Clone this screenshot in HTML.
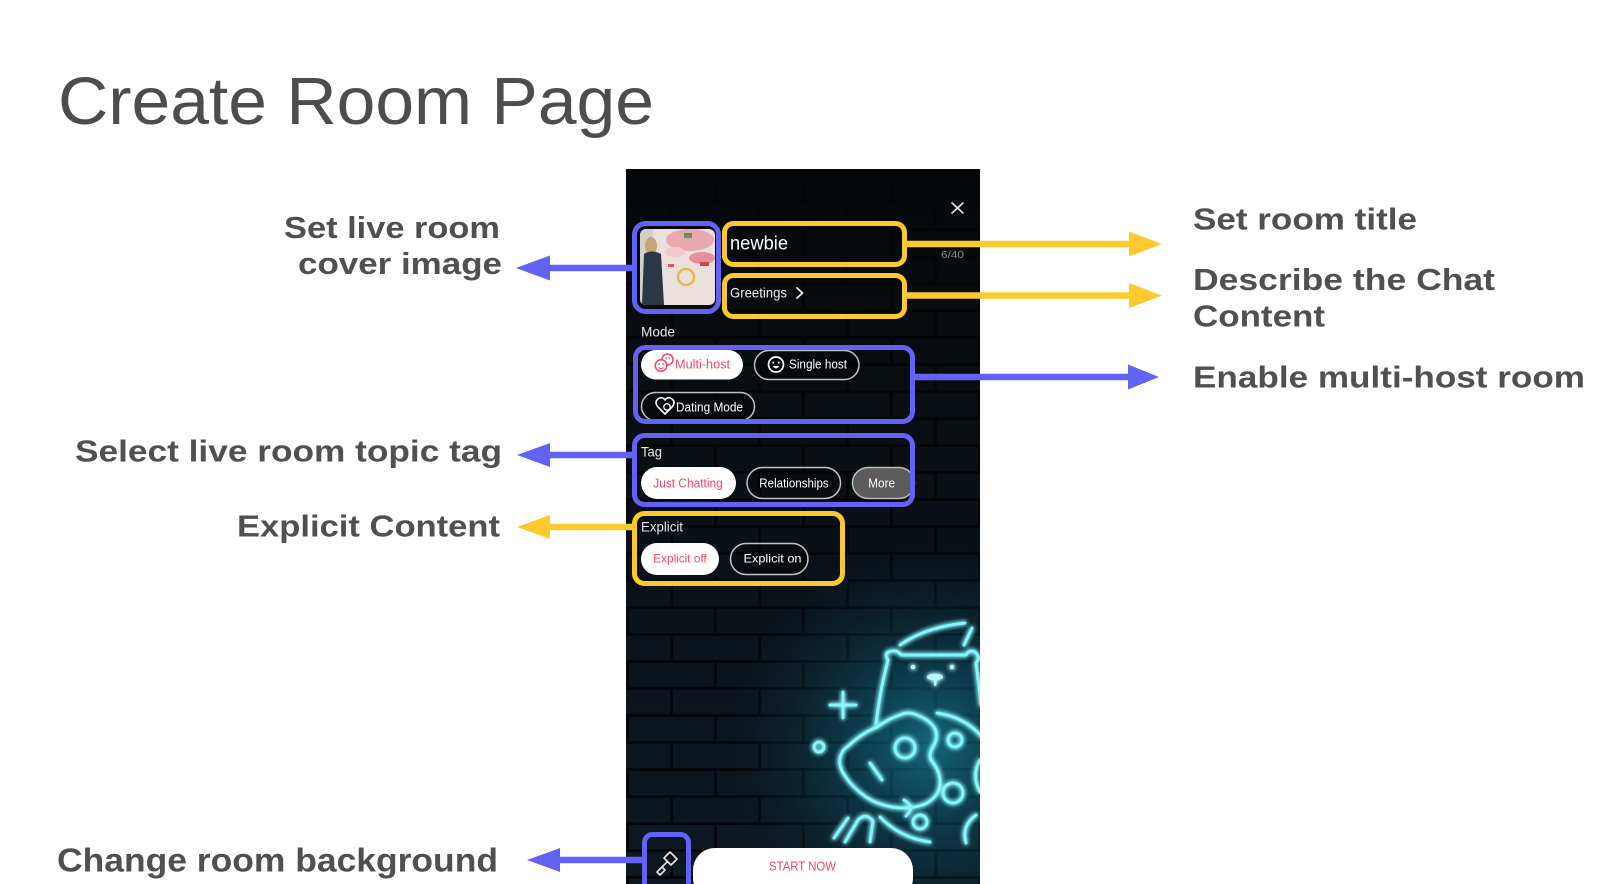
<!DOCTYPE html>
<html>
<head>
<meta charset="utf-8">
<style>
html,body{margin:0;padding:0;background:#fff;}
body{width:1602px;height:884px;overflow:hidden;}
svg{display:block;}
</style>
</head>
<body>
<svg width="1602" height="884" viewBox="0 0 1602 884" xmlns="http://www.w3.org/2000/svg">
<defs>
  <pattern id="bricks" x="626" y="174" width="88" height="54" patternUnits="userSpaceOnUse">
    <rect x="0" y="0" width="88" height="54" fill="#101b23"/>
    <rect x="0" y="0" width="88" height="3" fill="#030506"/>
    <rect x="0" y="27" width="88" height="3" fill="#030506"/>
    <rect x="0" y="0" width="3" height="27" fill="#030506"/>
    <rect x="44" y="27" width="3" height="27" fill="#030506"/>
  </pattern>
  <linearGradient id="shade" x1="0" y1="0" x2="0" y2="1">
    <stop offset="0" stop-color="#040607" stop-opacity="0.9"/>
    <stop offset="0.45" stop-color="#05080a" stop-opacity="0.6"/>
    <stop offset="1" stop-color="#06101a" stop-opacity="0.3"/>
  </linearGradient>
  <radialGradient id="glowbg" cx="930" cy="745" r="200" gradientUnits="userSpaceOnUse">
    <stop offset="0" stop-color="#1aa6c8" stop-opacity="0.55"/>
    <stop offset="0.5" stop-color="#0f6f90" stop-opacity="0.3"/>
    <stop offset="1" stop-color="#0a3a50" stop-opacity="0"/>
  </radialGradient>
  <filter id="neon" x="-30%" y="-30%" width="160%" height="160%">
    <feGaussianBlur stdDeviation="2.5" result="b"/>
    <feMerge><feMergeNode in="b"/><feMergeNode in="b"/><feMergeNode in="SourceGraphic"/></feMerge>
  </filter>
  <clipPath id="phoneclip"><rect x="626" y="169" width="354" height="715"/></clipPath>
  <clipPath id="coverclip"><rect x="640" y="229" width="75" height="76" rx="6"/></clipPath>
</defs>

<!-- Title -->
<text x="58" y="124" font-family="Liberation Sans, sans-serif" font-size="67" fill="#4d4d4d" textLength="596" lengthAdjust="spacingAndGlyphs">Create Room Page</text>

<!-- Left labels -->
<g font-family="Liberation Sans, sans-serif" font-weight="bold" font-size="31" fill="#505050">
  <text x="284" y="238" textLength="216" lengthAdjust="spacingAndGlyphs">Set live room</text>
  <text x="298" y="274" textLength="204" lengthAdjust="spacingAndGlyphs">cover image</text>
  <text x="75" y="461.5" textLength="427" lengthAdjust="spacingAndGlyphs">Select live room topic tag</text>
  <text x="237" y="536.5" textLength="263" lengthAdjust="spacingAndGlyphs">Explicit Content</text>
  <text x="57" y="871.5" font-size="33" textLength="441" lengthAdjust="spacingAndGlyphs">Change room background</text>
  <!-- Right labels -->
  <text x="1193" y="229.3" textLength="224" lengthAdjust="spacingAndGlyphs">Set room title</text>
  <text x="1193" y="290" textLength="302" lengthAdjust="spacingAndGlyphs">Describe the Chat</text>
  <text x="1193" y="326.7" textLength="132" lengthAdjust="spacingAndGlyphs">Content</text>
  <text x="1193" y="387.3" textLength="392" lengthAdjust="spacingAndGlyphs">Enable multi-host room</text>
</g>

<!-- Phone -->
<g clip-path="url(#phoneclip)">
  <rect x="626" y="169" width="354" height="715" fill="url(#bricks)"/>
  <rect x="626" y="169" width="354" height="715" fill="url(#shade)"/>
  <rect x="626" y="169" width="354" height="715" fill="url(#glowbg)"/>

  <!-- neon art -->
  <g fill="none" stroke="#86f5fc" stroke-width="3" stroke-linecap="round" stroke-linejoin="round" filter="url(#neon)">
    <path d="M900 645 Q926 627 965 623"/>
    <path d="M972 628 L964 645"/>
    <path d="M876 724 Q880 690 888 660 Q883 652 892 651 Q898 650 901 655 L966 655 Q969 649 975 652 Q981 657 976 663 Q979 685 981 705"/>
    <path d="M843 692 V718 M830 705 H856"/>
    <circle cx="819" cy="747" r="5"/>
    <path d="M847 747 Q862 733 877 727 Q890 718 900 715 Q908 711 917 715 Q928 719 934 727 Q939 735 934 745 Q928 754 931 760 Q941 772 940 784 Q939 797 925 804 Q910 810 892 807 Q876 804 866 797 Q852 787 845 776 Q838 766 840 758 Q842 750 847 747 Z"/>
    <circle cx="905" cy="748" r="10"/>
    <path d="M870 763 L882 780"/>
    <circle cx="955" cy="740" r="7"/>
    <circle cx="953" cy="793" r="10"/>
    <circle cx="920" cy="822" r="7"/>
    <path d="M937 713 Q965 717 982 737"/>
    <path d="M980 760 Q971 775 980 792"/>
    <path d="M976 815 Q961 826 966 843"/>
    <path d="M904 800 Q916 807 906 816"/>
    <path d="M845 842 L858 820 Q866 812 873 821 L870 842"/>
    <path d="M834 838 L848 818"/>
    <path d="M880 817 Q900 838 930 842"/>
  </g>
  <g fill="#b8fbff" filter="url(#neon)">
    <circle cx="913" cy="667" r="2.3"/>
    <circle cx="952" cy="667" r="2.3"/>
    <ellipse cx="935" cy="677" rx="8" ry="3.2"/>
    <rect x="934" y="677" width="2.5" height="9" rx="1.2"/>
  </g>

  <!-- close X -->
  <path d="M952 203 L963 213 M963 203 L952 213" stroke="#e8e8e8" stroke-width="1.6" stroke-linecap="round"/>

  <!-- cover image -->
  <g clip-path="url(#coverclip)">
    <rect x="640" y="229" width="75" height="76" fill="#ebe0dc"/>
    <rect x="640" y="229" width="13" height="76" fill="#d3cfcd"/>
    <ellipse cx="690" cy="240" rx="24" ry="11" fill="#e8a8b0"/>
    <ellipse cx="702" cy="258" rx="13" ry="6" fill="#e38f9c"/>
    <ellipse cx="675" cy="252" rx="10" ry="5" fill="#f1c9cc"/>
    <rect x="684" y="233" width="8" height="5" fill="#6d8c5c"/>
    <rect x="700" y="262" width="9" height="4" fill="#c9484c"/>
    <rect x="668" y="264" width="6" height="3" fill="#d05a5a"/>
    <circle cx="686" cy="277" r="8" fill="none" stroke="#e3bb48" stroke-width="2.5"/>
    <ellipse cx="651" cy="246" rx="6" ry="9" fill="#c9a478"/>
    <path d="M644 254 Q652 249 661 254 L664 305 L642 305 Z" fill="#2c3745"/>
  </g>

  <!-- title / greetings -->
  <text x="730" y="249.3" font-family="Liberation Sans, sans-serif" font-size="19" fill="#ffffff" textLength="58" lengthAdjust="spacingAndGlyphs">newbie</text>
  <text x="941" y="258" font-family="Liberation Sans, sans-serif" font-size="10.5" fill="#8a8a8a" textLength="23" lengthAdjust="spacingAndGlyphs">6/40</text>
  <text x="730" y="297.5" font-family="Liberation Sans, sans-serif" font-size="14" fill="#f0f0f0" textLength="57" lengthAdjust="spacingAndGlyphs">Greetings</text>
  <path d="M797 288 L802.5 293 L797 298" fill="none" stroke="#f0f0f0" stroke-width="1.8" stroke-linecap="round" stroke-linejoin="round"/>

  <g font-family="Liberation Sans, sans-serif" fill="#e6e6e6">
    <text x="641" y="336.7" font-size="14" textLength="34" lengthAdjust="spacingAndGlyphs">Mode</text>
    <text x="641" y="456.7" font-size="14" textLength="21" lengthAdjust="spacingAndGlyphs">Tag</text>
    <text x="641" y="531.7" font-size="14" textLength="42" lengthAdjust="spacingAndGlyphs">Explicit</text>
  </g>

  <!-- mode pills -->
  <rect x="641" y="350" width="102" height="29.5" rx="14.75" fill="#ffffff"/>
  <g stroke="#f24566" stroke-width="1.5" fill="#fff">
    <circle cx="667.5" cy="359.5" r="5.5"/>
    <circle cx="661" cy="365.5" r="5.8"/>
  </g>
  <g fill="#f24566">
    <circle cx="659" cy="364" r="0.9"/><circle cx="663" cy="364" r="0.9"/>
    <circle cx="666" cy="358" r="0.8"/><circle cx="669.5" cy="358" r="0.8"/>
  </g>
  <path d="M658.5 367.5 Q661 369.8 663.5 367.5" fill="none" stroke="#f24566" stroke-width="1.1"/>
  <text x="675" y="368.3" font-family="Liberation Sans, sans-serif" font-size="12.5" fill="#f24566" textLength="55" lengthAdjust="spacingAndGlyphs">Multi-host</text>

  <rect x="754.5" y="350.5" width="104.5" height="29" rx="14.5" fill="rgba(0,0,0,0.25)" stroke="rgba(255,255,255,0.75)" stroke-width="1.5"/>
  <circle cx="776" cy="364.5" r="7.5" fill="none" stroke="#fff" stroke-width="1.7"/>
  <circle cx="773.3" cy="362.5" r="1" fill="#fff"/><circle cx="778.7" cy="362.5" r="1" fill="#fff"/>
  <path d="M772.5 366 Q776 370.5 779.5 366 Z" fill="#fff"/>
  <text x="789" y="368.3" font-family="Liberation Sans, sans-serif" font-size="12.5" fill="#fff" textLength="58" lengthAdjust="spacingAndGlyphs">Single host</text>

  <rect x="641.5" y="392.5" width="113" height="28" rx="14" fill="rgba(0,0,0,0.25)" stroke="rgba(255,255,255,0.75)" stroke-width="1.5"/>
  <path d="M665 414 L658 407 Q654 402 658 399 Q662 396 665 400 Q668 396 672 399 Q676 402 672 407 Z" fill="none" stroke="#fff" stroke-width="1.6" stroke-linejoin="round"/>
  <circle cx="667" cy="407" r="3.2" fill="none" stroke="#fff" stroke-width="1.3"/>
  <text x="676" y="411.5" font-family="Liberation Sans, sans-serif" font-size="12.5" fill="#fff" textLength="67" lengthAdjust="spacingAndGlyphs">Dating Mode</text>

  <!-- tag pills -->
  <rect x="641" y="467" width="95" height="32" rx="16" fill="#ffffff"/>
  <text x="653.3" y="487.5" font-family="Liberation Sans, sans-serif" font-size="12.5" fill="#f24566" textLength="69.4" lengthAdjust="spacingAndGlyphs">Just Chatting</text>
  <rect x="747" y="467.5" width="93.5" height="31" rx="15.5" fill="rgba(0,0,0,0.25)" stroke="rgba(255,255,255,0.75)" stroke-width="1.5"/>
  <text x="759.3" y="487.5" font-family="Liberation Sans, sans-serif" font-size="12.5" fill="#fff" textLength="69.4" lengthAdjust="spacingAndGlyphs">Relationships</text>
  <rect x="852.5" y="467.5" width="62" height="31" rx="15.5" fill="#5b5b5b" stroke="rgba(220,220,220,0.8)" stroke-width="1.5"/>
  <text x="868.3" y="487.5" font-family="Liberation Sans, sans-serif" font-size="12.5" fill="#fff" textLength="26.7" lengthAdjust="spacingAndGlyphs">More</text>

  <!-- explicit pills -->
  <rect x="641" y="543" width="78" height="32" rx="16" fill="#ffffff"/>
  <text x="653.3" y="562.7" font-family="Liberation Sans, sans-serif" font-size="12" fill="#f24566" textLength="53.4" lengthAdjust="spacingAndGlyphs">Explicit off</text>
  <rect x="730.5" y="543.5" width="77.5" height="31" rx="15.5" fill="rgba(0,0,0,0.25)" stroke="rgba(255,255,255,0.75)" stroke-width="1.5"/>
  <text x="743.5" y="562.7" font-family="Liberation Sans, sans-serif" font-size="12" fill="#fff" textLength="58" lengthAdjust="spacingAndGlyphs">Explicit on</text>

  <!-- bottom -->
  <rect x="693" y="848" width="220" height="52" rx="22" fill="#ffffff"/>
  <text x="769" y="870.7" font-family="Liberation Sans, sans-serif" font-size="12.5" fill="#f24566" textLength="67" lengthAdjust="spacingAndGlyphs">START NOW</text>
  <g fill="none" stroke="#e8e8e8" stroke-width="1.6" stroke-linejoin="round" stroke-linecap="round">
    <path d="M664 858 L670 852 L677 859 L671 865 Z"/>
    <path d="M667 862 L662 867"/>
    <path d="M662 867 L657 872 L660 875 L665 870 Z"/>
  </g>

  <!-- annotation boxes -->
  <g fill="none" stroke-width="5">
    <rect x="634.5" y="223.5" width="84" height="88" rx="11" stroke="#6262f5"/>
    <rect x="724.5" y="223.5" width="180" height="41" rx="9" stroke="#fdc92f"/>
    <rect x="724.5" y="275.5" width="180" height="41" rx="9" stroke="#fdc92f"/>
    <rect x="635.5" y="347.5" width="277" height="74" rx="10" stroke="#6262f5"/>
    <rect x="634.5" y="435.5" width="278" height="69" rx="10" stroke="#6262f5"/>
    <rect x="634.5" y="513.5" width="208" height="70" rx="10" stroke="#fdc92f"/>
    <rect x="644.5" y="834.5" width="44" height="62" rx="8" stroke="#6262f5"/>
  </g>
</g>

<!-- Arrows -->
<g stroke-width="6.5">
  <line x1="548" y1="268" x2="634" y2="268" stroke="#6262f5"/>
  <line x1="905" y1="244" x2="1131" y2="244" stroke="#fdc92f"/>
  <line x1="905" y1="295.5" x2="1131" y2="295.5" stroke="#fdc92f"/>
  <line x1="914" y1="377" x2="1130" y2="377" stroke="#6262f5"/>
  <line x1="548" y1="455" x2="634" y2="455" stroke="#6262f5"/>
  <line x1="548" y1="527" x2="634" y2="527" stroke="#fdc92f"/>
  <line x1="558" y1="860" x2="643" y2="860" stroke="#6262f5"/>
</g>
<polygon points="516,268 550,255.5 550,280.5" fill="#6262f5"/>
<polygon points="1162,244 1129,231.5 1129,256.5" fill="#fdc92f"/>
<polygon points="1162,295.5 1129,283 1129,308" fill="#fdc92f"/>
<polygon points="1159,377 1128,364.5 1128,389.5" fill="#6262f5"/>
<polygon points="517,455 550,443 550,467" fill="#6262f5"/>
<polygon points="517,527 550,515 550,539" fill="#fdc92f"/>
<polygon points="527,860 560,848 560,872" fill="#6262f5"/>
</svg>
</body>
</html>
